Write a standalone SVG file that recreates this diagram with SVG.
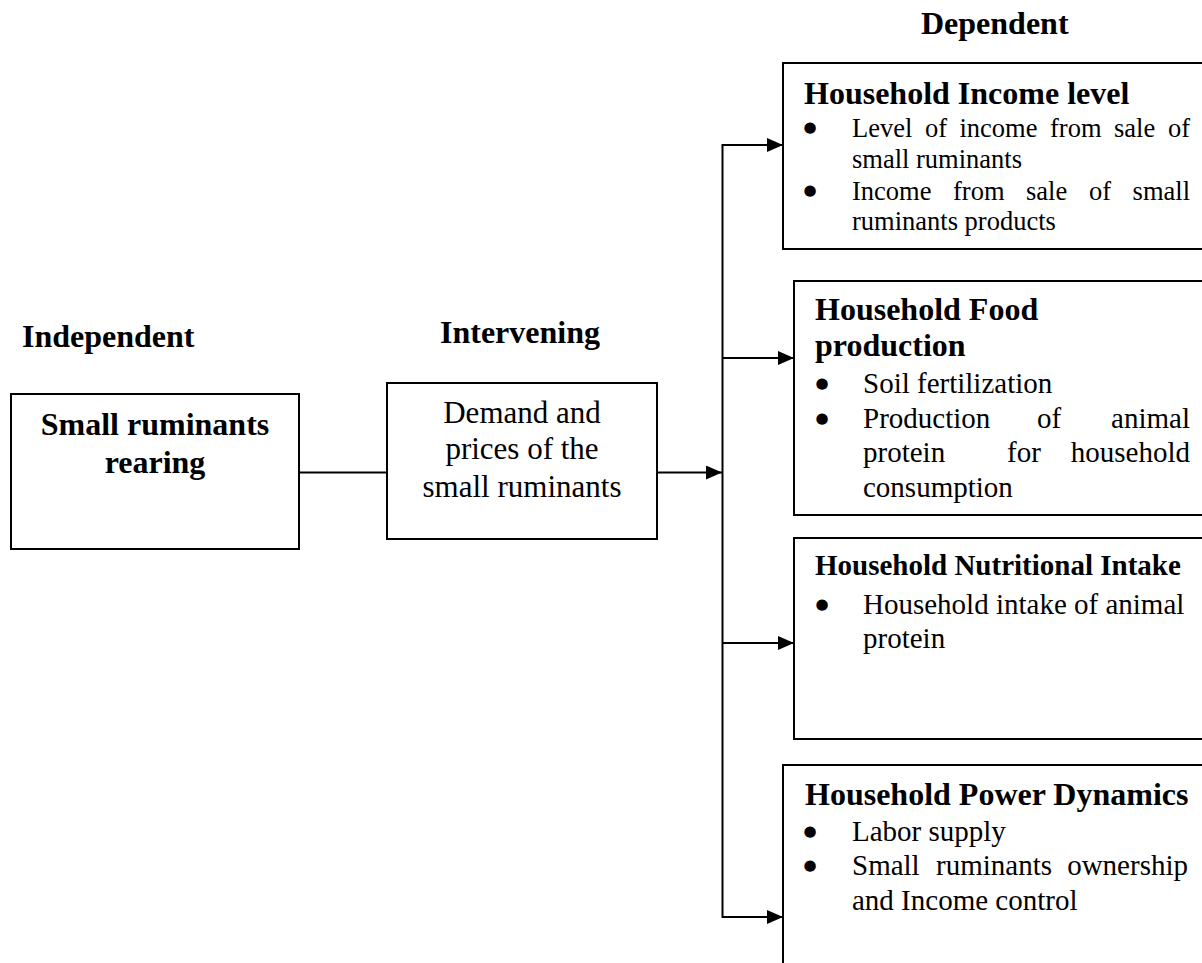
<svg xmlns="http://www.w3.org/2000/svg" width="1202" height="963" viewBox="0 0 1202 963">
<style>
  .box { fill: #fff; stroke: #000; stroke-width: 2; }
  .ln { fill: none; stroke: #000; stroke-width: 2; }
  .hd { font-family: "Liberation Serif", "Times New Roman", serif; font-weight: bold; font-size: 32px; fill: #000; }
  .hd2 { font-family: "Liberation Serif", "Times New Roman", serif; font-weight: bold; font-size: 29px; fill: #000; }
  .tx { font-family: "Liberation Serif", "Times New Roman", serif; font-size: 29px; fill: #000; }
  .tx1 { font-family: "Liberation Serif", "Times New Roman", serif; font-size: 26.5px; fill: #000; }
  .bl { font-family: "DejaVu Sans", sans-serif; font-size: 15px; fill: #000; text-anchor: middle; }
  .mid { font-family: "Liberation Serif", "Times New Roman", serif; font-size: 31px; fill: #000; text-anchor: middle; }
  .e { text-anchor: end; }
</style>
<defs>
  <marker id="ah" markerUnits="userSpaceOnUse" markerWidth="16" markerHeight="14" refX="16" refY="7" orient="auto">
    <path d="M0,0 L16,7 L0,14 z" fill="#000"/>
  </marker>
</defs>
<rect width="1202" height="963" fill="#fff"/>

<g id="labels">
  <text class="hd" x="22" y="347">Independent</text>
  <text class="hd" x="520" y="343" text-anchor="middle">Intervening</text>
  <text class="hd" x="921" y="34">Dependent</text>
</g>

<g id="connectors">
  <line class="ln" x1="299" y1="472.5" x2="387" y2="472.5"/>
  <line class="ln" x1="657" y1="472.5" x2="722" y2="472.5" marker-end="url(#ah)"/>
  <line class="ln" x1="722.5" y1="144" x2="722.5" y2="918"/>
  <line class="ln" x1="722" y1="145" x2="783" y2="145" marker-end="url(#ah)"/>
  <line class="ln" x1="722" y1="358" x2="794" y2="358" marker-end="url(#ah)"/>
  <line class="ln" x1="722" y1="643" x2="794" y2="643" marker-end="url(#ah)"/>
  <line class="ln" x1="722" y1="917" x2="783" y2="917" marker-end="url(#ah)"/>
</g>

<g id="independent">
  <rect class="box" x="11" y="394" width="288" height="155"/>
  <text class="hd" x="155" y="435" text-anchor="middle">Small ruminants</text>
  <text class="hd" x="155" y="473" text-anchor="middle">rearing</text>
</g>

<g id="intervening">
  <rect class="box" x="387" y="383" width="270" height="156"/>
  <text class="mid" x="522" y="423">Demand and</text>
  <text class="mid" x="522" y="459">prices of the</text>
  <text class="mid" x="522" y="497">small ruminants</text>
</g>

<g id="income">
  <rect class="box" x="783" y="63" width="430" height="186"/>
  <text class="hd" x="804" y="104">Household Income level</text>
  <text class="bl" x="810" y="132">●</text>
  <text class="tx1" y="137"><tspan x="852">Level</tspan><tspan x="925">of</tspan><tspan x="959.5">income</tspan><tspan x="1050">from</tspan><tspan x="1114">sale</tspan><tspan class="e" x="1190">of</tspan></text>
  <text class="tx1" x="852" y="168">small ruminants</text>
  <text class="bl" x="810" y="195">●</text>
  <text class="tx1" y="200"><tspan x="852">Income</tspan><tspan x="953">from</tspan><tspan x="1026">sale</tspan><tspan x="1089">of</tspan><tspan class="e" x="1190">small</tspan></text>
  <text class="tx1" x="852" y="230">ruminants products</text>
</g>

<g id="food">
  <rect class="box" x="794" y="281" width="420" height="234"/>
  <text class="hd" x="815" y="320">Household Food</text>
  <text class="hd" x="815" y="356">production</text>
  <text class="bl" x="822" y="388">●</text>
  <text class="tx" x="863" y="393">Soil fertilization</text>
  <text class="bl" x="822" y="423">●</text>
  <text class="tx" y="428"><tspan x="863">Production</tspan><tspan x="1037">of</tspan><tspan class="e" x="1190">animal</tspan></text>
  <text class="tx" y="462"><tspan x="863">protein</tspan><tspan x="1007">for</tspan><tspan class="e" x="1190">household</tspan></text>
  <text class="tx" x="863" y="497">consumption</text>
</g>

<g id="nutrition">
  <rect class="box" x="794" y="538" width="420" height="201"/>
  <text class="hd2" x="815" y="575">Household Nutritional Intake</text>
  <text class="bl" x="822" y="609">●</text>
  <text class="tx" x="863" y="614">Household intake of animal</text>
  <text class="tx" x="863" y="648">protein</text>
</g>

<g id="power">
  <rect class="box" x="783" y="765" width="430" height="220"/>
  <text class="hd" x="805" y="805">Household Power Dynamics</text>
  <text class="bl" x="810" y="836">●</text>
  <text class="tx" x="852" y="841">Labor supply</text>
  <text class="bl" x="810" y="870">●</text>
  <text class="tx" y="875"><tspan x="852">Small</tspan><tspan x="936">ruminants</tspan><tspan class="e" x="1188">ownership</tspan></text>
  <text class="tx" x="852" y="910">and Income control</text>
</g>
</svg>
